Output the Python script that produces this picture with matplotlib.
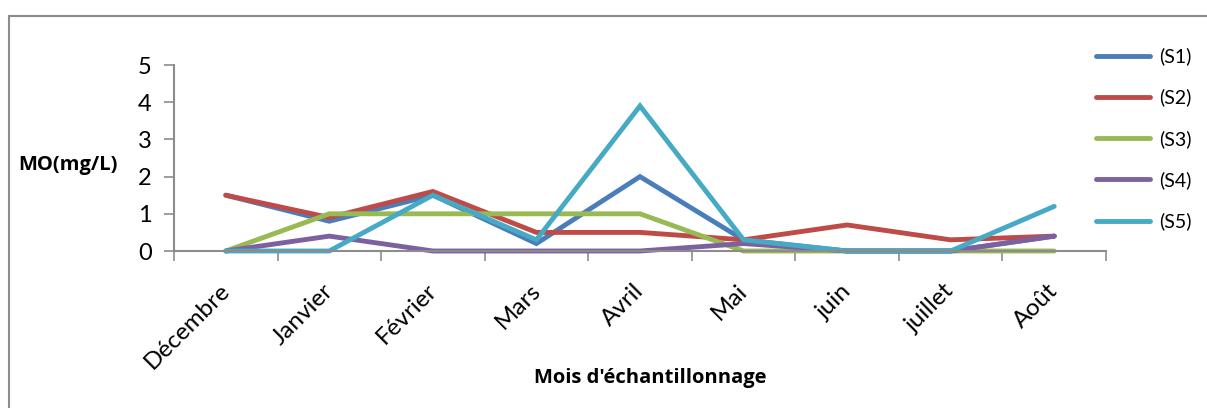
import matplotlib
matplotlib.use("Agg")
import matplotlib.pyplot as plt
from matplotlib.patches import Rectangle
from matplotlib.transforms import ScaledTranslation

months = ["Décembre", "Janvier", "Février", "Mars", "Avril", "Mai", "juin", "juillet", "Août"]
s1 = [1.5, 0.8, 1.5, 0.2, 2.0, 0.3, 0.0, 0.0, 0.4]
s2 = [1.5, 0.9, 1.6, 0.5, 0.5, 0.3, 0.7, 0.3, 0.4]
s3 = [0.0, 1.0, 1.0, 1.0, 1.0, 0.0, 0.0, 0.0, 0.0]
s4 = [0.0, 0.4, 0.0, 0.0, 0.0, 0.2, 0.0, 0.0, 0.4]
s5 = [0.0, 0.0, 1.5, 0.3, 3.9, 0.3, 0.0, 0.0, 1.2]
labels = ["(S1)", "(S2)", "(S3)", "(S4)", "(S5)"]
colors = ["#4A7EBB", "#BE4B48", "#98B954", "#7D60A0", "#46AAC5"]
series = [s1, s2, s3, s4, s5]

plt.rcParams['font.family'] = ['Lato', 'DejaVu Sans']

W, H = 1207, 408
fig = plt.figure(figsize=(W / 100, H / 100), dpi=100)
ax = fig.add_axes([174 / W, (H - 251) / H, (1106 - 174) / W, (251 - 65) / H])

# outer frame
fig.patches.append(Rectangle((9 / W, -0.1), 1.2, (H - 16) / H + 0.1, transform=fig.transFigure,
                             fill=False, edgecolor="#8C8C8C", linewidth=1.5))

x = list(range(len(months)))
handles = []
for vals, lab, col in zip(series, labels, colors):
    h, = ax.plot([i + 0.5 for i in x], vals, color=col, lw=3.5, label=lab,
                 solid_capstyle='round', solid_joinstyle='miter', clip_on=False)
    handles.append(h)

ax.set_xlim(0, len(months))
ax.set_ylim(0, 5)
ax.set_yticks([0, 1, 2, 3, 4, 5])
ax.set_xticks([i + 0.5 for i in x])
ax.set_xticklabels(months, rotation=45, ha='right', rotation_mode='anchor', fontsize=17.5)
ax.tick_params(axis='x', which='major', length=0, pad=21)
shift = ScaledTranslation(-7 / 100, 0, fig.dpi_scale_trans)
for lbl in ax.get_xticklabels():
    lbl.set_transform(lbl.get_transform() + shift)
ax.set_xticks(list(range(len(months) + 1)), minor=True)
ax.tick_params(axis='x', which='minor', length=7, color="#8C8C8C", width=1.2, direction='out')
ax.tick_params(axis='y', length=7, color="#8C8C8C", width=1.2, labelsize=17, pad=9)
for sp in ['top', 'right']:
    ax.spines[sp].set_visible(False)
for sp in ['left', 'bottom']:
    ax.spines[sp].set_color("#8C8C8C")
    ax.spines[sp].set_linewidth(1.5)

bold = ['Open Sans', 'DejaVu Sans']
fig.text(68 / W, 1 - 165 / H, "MO(mg/L)", fontsize=14.5, fontweight='bold', family=bold,
         ha='center', va='center')
fig.text(650 / W, 1 - 378 / H, "Mois d'échantillonnage", fontsize=14.5, fontweight='bold', family=bold,
         ha='center', va='center')

leg = fig.legend(handles=handles, loc='upper left', bbox_to_anchor=(1078 / W, 1 - 30 / H),
                 frameon=False, fontsize=14, handlelength=2.8, labelspacing=1.2, handletextpad=0.45)

fig.savefig("out.png", dpi=100)
